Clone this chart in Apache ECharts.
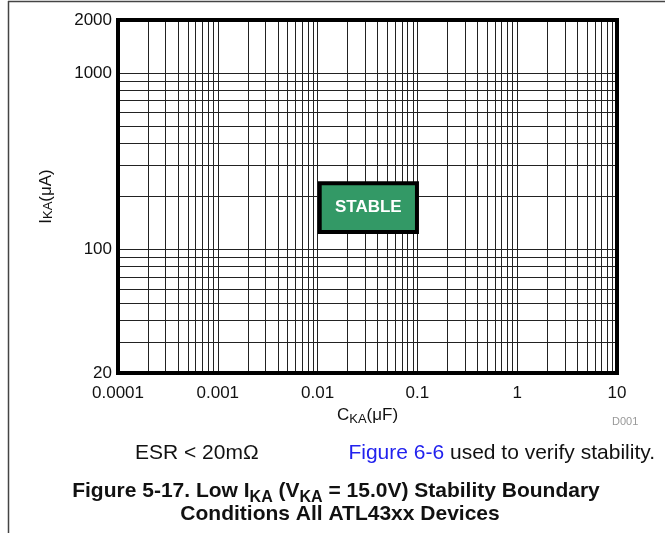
<!DOCTYPE html>
<html>
<head>
<meta charset="utf-8">
<script src="https://cdn.jsdelivr.net/npm/echarts@6/dist/echarts.min.js"></script>
<style>
  html, body { margin: 0; padding: 0; background: #fff; }
  #chart-container { width: 665px; height: 533px; }
</style>
</head>
<body>
<div id="chart-container"></div>
<script>
var dom = document.getElementById('chart-container');
var myChart = echarts.init(dom, null, { renderer: 'canvas' });

// axis ranges and labels
var xRange = [0.0001, 10];
var yRange = [20, 2000];
var xTickLabels = ['0.0001', '0.001', '0.01', '0.1', '1', '10'];
var yTickLabels = ['20', '100', '1000', '2000'];

// log grid lines
var xGridValues = [
  0.0001, 0.0002, 0.0003, 0.0004, 0.0005, 0.0006, 0.0007, 0.0008, 0.0009,
  0.001, 0.002, 0.003, 0.004, 0.005, 0.006, 0.007, 0.008, 0.009,
  0.01, 0.02, 0.03, 0.04, 0.05, 0.06, 0.07, 0.08, 0.09,
  0.1, 0.2, 0.3, 0.4, 0.5, 0.6, 0.7, 0.8, 0.9,
  1, 2, 3, 4, 5, 6, 7, 8, 9
];
var yGridValues = [30, 40, 50, 60, 70, 80, 90, 100, 200, 300, 400, 500, 600, 700, 800, 900, 1000];

// stable region box
var stableX = [0.0105, 0.099];
var stableY = [126, 238];
var stableText = 'STABLE';

var font = 'Liberation Sans, Arial, Helvetica, sans-serif';

var gridLines = [];
xGridValues.forEach(function (v) { gridLines.push({ xAxis: v }); });
yGridValues.forEach(function (v) { gridLines.push({ yAxis: v }); });

var option = {
  animation: false,
  backgroundColor: '#fff',
  grid: {
    left: 118, top: 20, right: 48, bottom: 160,
    show: true, borderColor: '#000', borderWidth: 4, z: 10
  },
  xAxis: {
    type: 'log', logBase: 10, min: xRange[0], max: xRange[1],
    axisLine: { show: false }, axisTick: { show: false }, splitLine: { show: false },
    axisLabel: {
      margin: 12, color: '#111', fontSize: 17, fontFamily: font,
      formatter: function (v, i) { return xTickLabels[i]; }
    },
    name: '{m|C}{s|KA}{m|(μF)}', nameLocation: 'middle', nameGap: 30,
    nameTextStyle: {
      rich: {
        m: { fontSize: 17, fontFamily: font, color: '#111', lineHeight: 20, verticalAlign: 'bottom' },
        s: { fontSize: 13, fontFamily: font, color: '#111', lineHeight: 20, verticalAlign: 'bottom', padding: [0, 0, -2, 0] }
      }
    }
  },
  yAxis: {
    type: 'log', logBase: 10, min: yRange[0], max: yRange[1],
    axisLine: { show: false }, axisTick: { show: false }, splitLine: { show: false },
    axisLabel: {
      margin: 6, color: '#111', fontSize: 17, fontFamily: font,
      formatter: function (v, i) { return yTickLabels[i]; }
    },
    name: '{m|I}{s|KA}{m|(μA)}', nameLocation: 'middle', nameGap: 63, nameRotate: 90,
    nameTextStyle: {
      rich: {
        m: { fontSize: 17, fontFamily: font, color: '#111', lineHeight: 20, verticalAlign: 'bottom' },
        s: { fontSize: 13, fontFamily: font, color: '#111', lineHeight: 20, verticalAlign: 'bottom' }
      }
    }
  },
  series: [
    {
      type: 'line',
      data: [[xRange[0], yRange[0]]],
      showSymbol: false,
      silent: true,
      z: 2,
      markLine: {
        silent: true, symbol: 'none', z: 2, precision: 6,
        label: { show: false },
        lineStyle: { color: '#222', width: 1, type: 'solid' },
        emphasis: { disabled: true },
        data: gridLines
      }
    },
    {
      type: 'line',
      data: [],
      silent: true,
      z: 8,
      markArea: {
        silent: true, z: 8,
        itemStyle: { color: '#339966', borderColor: '#000', borderWidth: 4 },
        label: {
          show: true, position: 'inside', color: '#fff',
          fontSize: 17, fontWeight: 'bold', fontFamily: font
        },
        data: [[
          { name: stableText, coord: [stableX[0], stableY[1]] },
          { coord: [stableX[1], stableY[0]] }
        ]]
      }
    }
  ],
  graphic: [
    { type: 'line', shape: { x1: 8, y1: 1.5, x2: 665, y2: 1.5 }, style: { stroke: '#444', lineWidth: 1.5 } },
    { type: 'line', shape: { x1: 8.5, y1: 1, x2: 8.5, y2: 533 }, style: { stroke: '#444', lineWidth: 1.5 } },
    {
      type: 'text', left: 612, top: 416,
      style: { text: 'D001', font: '11px ' + font, fill: '#999' }
    },
    {
      type: 'text', x: 135, y: 453,
      style: { text: 'ESR < 20mΩ', font: '21px ' + font, fill: '#111', verticalAlign: 'middle' }
    },
    {
      type: 'text', x: 655, y: 453,
      style: {
        text: '{b|Figure 6-6}{n| used to verify stability.}',
        align: 'right', verticalAlign: 'middle',
        rich: {
          b: { font: '21px ' + font, fill: '#2222ee' },
          n: { font: '21px ' + font, fill: '#111' }
        }
      }
    },
    {
      type: 'text', x: 336, y: 490,
      style: {
        text: '{t|Figure 5-17. Low I}{s|KA}{t| (V}{s|KA}{t| = 15.0V) Stability Boundary}',
        align: 'center', verticalAlign: 'middle',
        rich: {
          t: { font: 'bold 21px ' + font, fill: '#111', lineHeight: 23, verticalAlign: 'bottom' },
          s: { font: 'bold 16px ' + font, fill: '#111', lineHeight: 23, verticalAlign: 'bottom', padding: [0, 0, -4, 0] }
        }
      }
    },
    {
      type: 'text', x: 340, y: 514,
      style: {
        text: 'Conditions All ATL43xx Devices', font: 'bold 21px ' + font, fill: '#111',
        align: 'center', verticalAlign: 'middle'
      }
    }
  ]
};

myChart.setOption(option);
window.addEventListener('resize', myChart.resize);
</script>
</body>
</html>
